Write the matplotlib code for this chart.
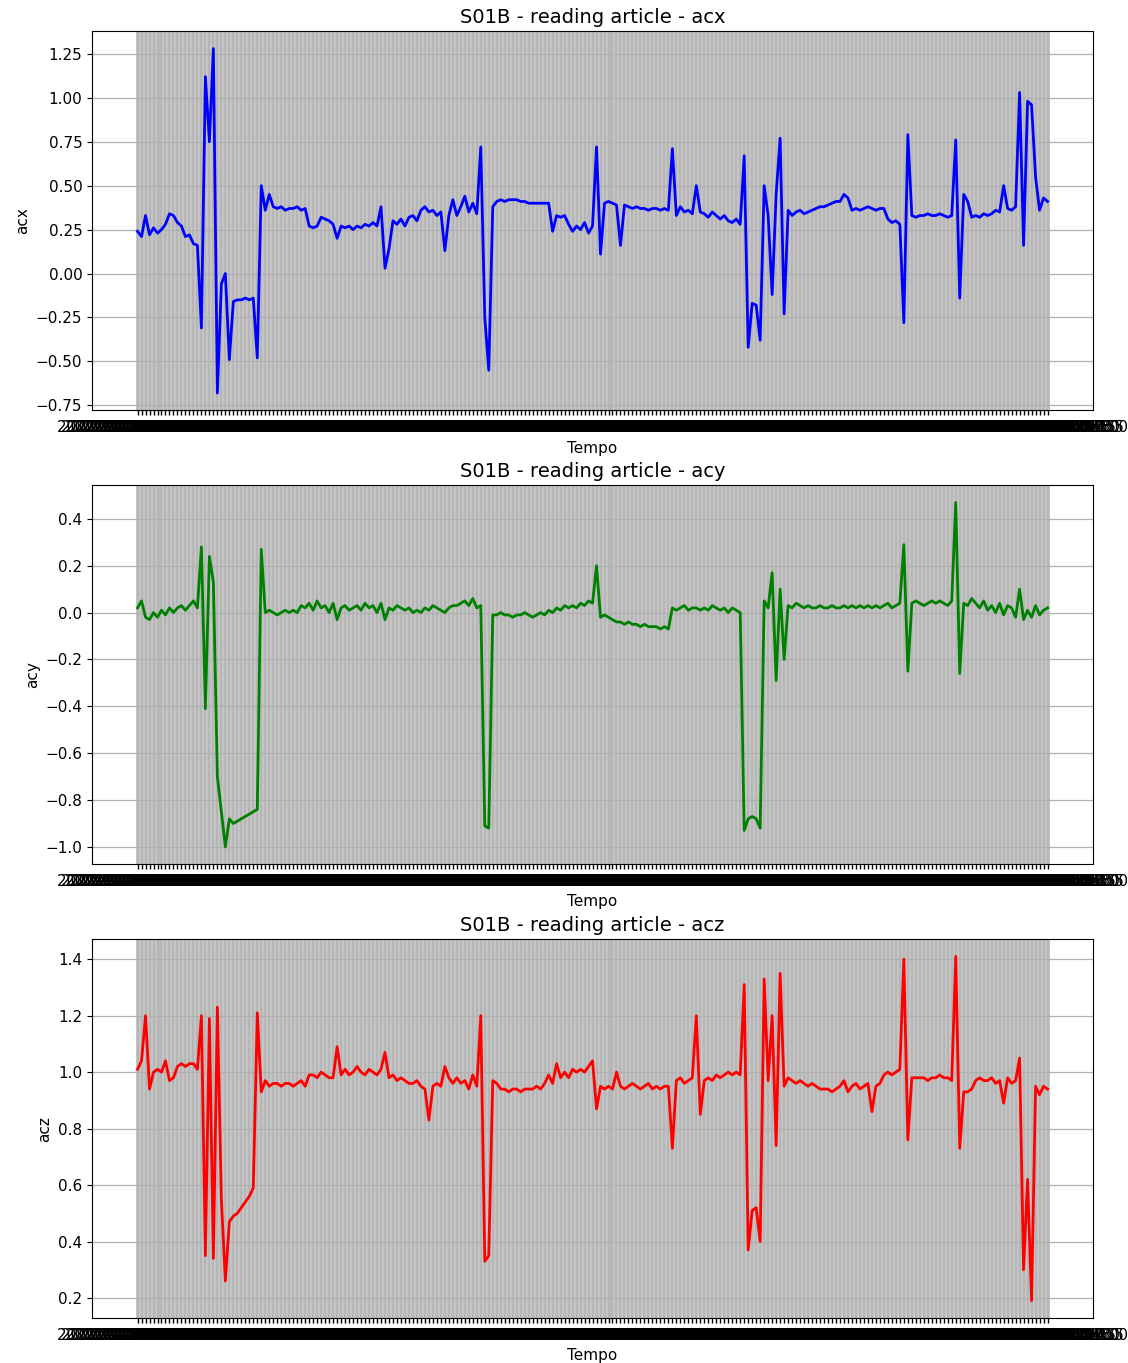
import numpy as np
import pandas as pd
import matplotlib
matplotlib.use("Agg")
import matplotlib.pyplot as plt

# Accelerometer readings, subject S01B while reading an article
acx = [
    0.24, 0.21, 0.33, 0.22, 0.26, 0.23, 0.25, 0.28, 0.34, 0.33,
    0.29, 0.27, 0.21, 0.22, 0.17, 0.16, -0.31, 1.12, 0.75, 1.28,
    -0.68, -0.06, 0.0, -0.49, -0.16, -0.15, -0.15, -0.14, -0.15, -0.14,
    -0.48, 0.50, 0.36, 0.45, 0.38, 0.37, 0.38, 0.36, 0.37, 0.37,
    0.38, 0.36, 0.37, 0.27, 0.26, 0.27, 0.32, 0.31, 0.30, 0.28,
    0.20, 0.27, 0.26, 0.27, 0.25, 0.27, 0.26, 0.28, 0.27, 0.29,
    0.27, 0.38, 0.03, 0.14, 0.30, 0.28, 0.31, 0.27, 0.32, 0.33,
    0.30, 0.36, 0.38, 0.35, 0.36, 0.33, 0.35, 0.13, 0.33, 0.42,
    0.33, 0.38, 0.44, 0.35, 0.40, 0.34, 0.72, -0.25, -0.55, 0.38,
    0.41, 0.42, 0.41, 0.42, 0.42, 0.42, 0.41, 0.41, 0.40, 0.40,
    0.40, 0.40, 0.40, 0.40, 0.24, 0.33, 0.32, 0.33, 0.28, 0.24,
    0.27, 0.25, 0.29, 0.23, 0.27, 0.72, 0.11, 0.40, 0.41, 0.40,
    0.39, 0.16, 0.39, 0.38, 0.37, 0.38, 0.37, 0.37, 0.36, 0.37,
    0.37, 0.36, 0.37, 0.36, 0.71, 0.33, 0.38, 0.35, 0.36, 0.34,
    0.50, 0.35, 0.34, 0.32, 0.35, 0.33, 0.31, 0.33, 0.30, 0.29,
    0.31, 0.28, 0.67, -0.42, -0.17, -0.18, -0.38, 0.50, 0.33, -0.12,
    0.45, 0.77, -0.23, 0.36, 0.33, 0.35, 0.36, 0.34, 0.35, 0.36,
    0.37, 0.38, 0.38, 0.39, 0.40, 0.41, 0.41, 0.45, 0.43, 0.36,
    0.37, 0.36, 0.37, 0.38, 0.37, 0.36, 0.37, 0.37, 0.31, 0.29,
    0.30, 0.28, -0.28, 0.79, 0.33, 0.32, 0.33, 0.33, 0.34, 0.33,
    0.33, 0.34, 0.33, 0.32, 0.33, 0.76, -0.14, 0.45, 0.41, 0.32,
    0.33, 0.32, 0.34, 0.33, 0.34, 0.36, 0.35, 0.50, 0.37, 0.36,
    0.38, 1.03, 0.16, 0.98, 0.96, 0.55, 0.36, 0.43, 0.41,
]

acy = [
    0.02, 0.05, -0.02, -0.03, 0.00, -0.02, 0.01, -0.01, 0.02, 0.00,
    0.02, 0.03, 0.01, 0.03, 0.05, 0.02, 0.28, -0.41, 0.24, 0.13,
    -0.70, -0.85, -1.00, -0.88, -0.90, -0.89, -0.88, -0.87, -0.86, -0.85,
    -0.84, 0.27, 0.00, 0.01, 0.00, -0.01, 0.00, 0.01, 0.00, 0.01,
    0.00, 0.03, 0.02, 0.04, 0.01, 0.05, 0.02, 0.03, 0.00, 0.04,
    -0.03, 0.02, 0.03, 0.01, 0.02, 0.03, 0.01, 0.04, 0.02, 0.03,
    0.00, 0.04, -0.03, 0.02, 0.01, 0.03, 0.02, 0.01, 0.02, 0.00,
    0.01, 0.00, 0.02, 0.01, 0.03, 0.02, 0.01, 0.00, 0.02, 0.03,
    0.03, 0.04, 0.05, 0.03, 0.06, 0.02, 0.03, -0.91, -0.92, -0.01,
    -0.01, 0.00, -0.01, -0.01, -0.02, -0.01, -0.01, 0.00, -0.01, -0.02,
    -0.01, 0.00, -0.01, 0.01, 0.00, 0.02, 0.01, 0.03, 0.02, 0.03,
    0.02, 0.04, 0.03, 0.05, 0.04, 0.20, -0.02, -0.01, -0.02, -0.03,
    -0.04, -0.04, -0.05, -0.04, -0.05, -0.05, -0.06, -0.05, -0.06, -0.06,
    -0.06, -0.07, -0.06, -0.07, 0.02, 0.01, 0.02, 0.03, 0.01, 0.02,
    0.02, 0.01, 0.02, 0.01, 0.03, 0.02, 0.01, 0.02, 0.00, 0.02,
    0.01, 0.00, -0.93, -0.88, -0.87, -0.88, -0.92, 0.05, 0.02, 0.17,
    -0.29, 0.10, -0.20, 0.03, 0.02, 0.04, 0.03, 0.02, 0.03, 0.02,
    0.02, 0.03, 0.02, 0.02, 0.03, 0.02, 0.02, 0.03, 0.02, 0.03,
    0.02, 0.03, 0.02, 0.03, 0.02, 0.03, 0.02, 0.03, 0.04, 0.02,
    0.03, 0.04, 0.29, -0.25, 0.04, 0.05, 0.04, 0.03, 0.04, 0.05,
    0.04, 0.05, 0.04, 0.03, 0.05, 0.47, -0.26, 0.04, 0.03, 0.06,
    0.04, 0.02, 0.05, 0.01, 0.03, 0.00, 0.04, -0.01, 0.03, 0.02,
    -0.02, 0.10, -0.03, 0.01, -0.02, 0.03, -0.01, 0.01, 0.02,
]

acz = [
    1.01, 1.04, 1.20, 0.94, 1.00, 1.01, 1.00, 1.04, 0.97, 0.98,
    1.02, 1.03, 1.02, 1.03, 1.03, 1.01, 1.20, 0.35, 1.19, 0.34,
    1.23, 0.55, 0.26, 0.47, 0.49, 0.50, 0.52, 0.54, 0.56, 0.59,
    1.21, 0.93, 0.97, 0.95, 0.96, 0.96, 0.95, 0.96, 0.96, 0.95,
    0.96, 0.97, 0.95, 0.99, 0.99, 0.98, 1.00, 0.99, 0.98, 0.98,
    1.09, 0.99, 1.01, 0.99, 1.00, 1.02, 1.00, 0.99, 1.01, 1.00,
    0.99, 1.01, 1.07, 0.98, 0.99, 0.97, 0.98, 0.97, 0.96, 0.96,
    0.97, 0.95, 0.94, 0.83, 0.95, 0.96, 0.95, 1.02, 0.98, 0.96,
    0.98, 0.96, 0.97, 0.94, 0.99, 0.95, 1.20, 0.33, 0.35, 0.97,
    0.96, 0.94, 0.94, 0.93, 0.94, 0.94, 0.93, 0.94, 0.94, 0.94,
    0.95, 0.94, 0.96, 0.99, 0.96, 1.03, 0.98, 1.00, 0.98, 1.01,
    1.00, 1.01, 1.00, 1.02, 1.04, 0.87, 0.95, 0.94, 0.95, 0.94,
    1.00, 0.95, 0.94, 0.95, 0.96, 0.95, 0.94, 0.95, 0.96, 0.94,
    0.95, 0.94, 0.95, 0.95, 0.73, 0.97, 0.98, 0.96, 0.97, 0.98,
    1.20, 0.85, 0.97, 0.98, 0.97, 0.99, 0.98, 0.99, 1.00, 0.99,
    1.00, 0.99, 1.31, 0.37, 0.51, 0.52, 0.40, 1.33, 0.97, 1.20,
    0.74, 1.35, 0.95, 0.98, 0.97, 0.96, 0.97, 0.96, 0.95, 0.96,
    0.95, 0.94, 0.94, 0.94, 0.93, 0.94, 0.95, 0.97, 0.93, 0.95,
    0.96, 0.94, 0.95, 0.96, 0.86, 0.95, 0.96, 0.99, 1.00, 0.99,
    1.00, 1.01, 1.40, 0.76, 0.98, 0.98, 0.98, 0.98, 0.97, 0.98,
    0.98, 0.99, 0.98, 0.98, 0.97, 1.41, 0.73, 0.93, 0.93, 0.94,
    0.97, 0.98, 0.97, 0.97, 0.98, 0.96, 0.97, 0.89, 0.98, 0.96,
    0.97, 1.05, 0.30, 0.62, 0.19, 0.95, 0.92, 0.95, 0.94,
]

# timestamp labels for every sample
tempo = pd.date_range("2022-11-08 10:30:00", periods=len(acx), freq="5s").strftime("%Y-%m-%d %H:%M:%S")

series = [("acx", acx, "blue"), ("acy", acy, "green"), ("acz", acz, "red")]

fig, axes = plt.subplots(3, 1, figsize=(11.28, 13.63), dpi=100)
fig.subplots_adjust(left=0.0816, right=0.969, top=0.977, bottom=0.033, hspace=0.198)

x = np.arange(len(tempo))
for ax, (name, values, color) in zip(axes, series):
    ax.plot(x, values, color=color, linewidth=2.0)
    ax.set_xticks(x)
    ax.set_xticklabels(tempo, fontsize=11)
    ax.tick_params(axis="y", labelsize=11)
    ax.tick_params(axis="x", width=1.0)
    ax.grid(True, axis="y", color="#b0b0b0", linewidth=0.9)
    ax.grid(True, axis="x", color="#b6b6b6", linewidth=2.6)
    ax.set_axisbelow(True)
    ax.set_title(f"S01B - reading article - {name}", fontsize=14)
    ax.set_xlabel("Tempo", fontsize=11)
    ax.set_ylabel(name, fontsize=11)

fig.savefig("out.png", dpi=100)
